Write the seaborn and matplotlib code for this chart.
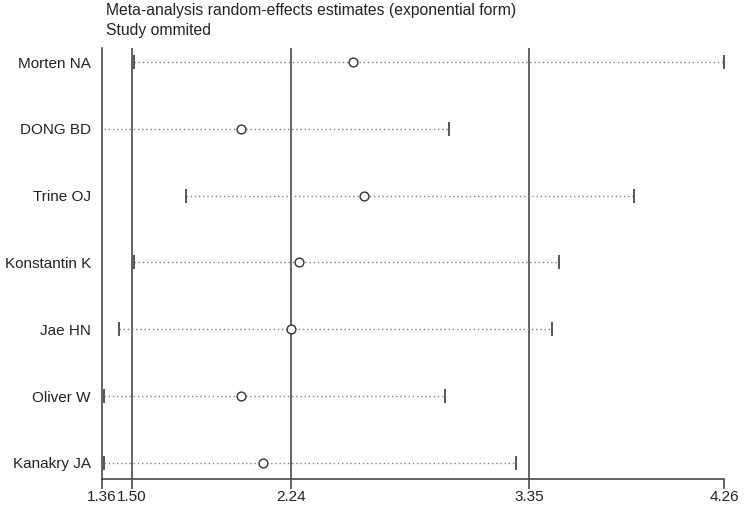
import numpy as np
import pandas as pd
import seaborn as sns
import matplotlib.pyplot as plt

# Study omitted and the pooled estimate with its CI (exponential form)
studies = ['Morten NA', 'DONG BD', 'Trine OJ', 'Konstantin K', 'Jae HN', 'Oliver W', 'Kanakry JA']
estimate = [2.53, 2.01, 2.58, 2.28, 2.24, 2.01, 2.11]
lower = [1.51, 1.35, 1.75, 1.51, 1.44, 1.37, 1.37]
upper = [4.26, 2.98, 3.84, 3.49, 3.46, 2.96, 3.29]

# reference lines (lower CI, estimate, upper CI of the full analysis)
ref_lines = [1.50, 2.24, 3.35]
x_ticks = [1.36, 1.50, 2.24, 3.35, 4.26]

df = pd.DataFrame({'study': studies, 'est': estimate, 'lo': lower, 'hi': upper})
df['pos'] = np.arange(len(df))

sns.set_theme(style='white')
plt.rcParams['font.family'] = ['Liberation Sans', 'DejaVu Sans']
fs = 11

fig = plt.figure(figsize=(7.44, 5.05), dpi=100)
ax = fig.add_axes([102 / 744, 26 / 505, 622 / 744, 431 / 505])

line_col = '#4a4a4a'
for x in ref_lines:
    ax.axvline(x, color=line_col, lw=1.2, zorder=1)

ax.hlines(df['pos'], df['lo'], df['hi'], colors='#808080', linestyles=(0, (1, 2)), lw=1.0, zorder=2)

ends = pd.concat([df[['lo', 'pos']].rename(columns={'lo': 'x'}),
                  df[['hi', 'pos']].rename(columns={'hi': 'x'})])
sns.scatterplot(data=ends, x='x', y='pos', marker='|', s=110, color='#555555',
                linewidth=1.4, ax=ax, zorder=3)
sns.scatterplot(data=df, x='est', y='pos', marker='o', s=40, facecolor='white',
                edgecolor='#333333', linewidth=1.0, ax=ax, zorder=4)

ax.set_xlim(1.36, 4.26)
ax.set_ylim(6.24, -0.21)
ax.set_xticks(x_ticks)
ax.set_xticklabels([f'{v:.2f}' for v in x_ticks], fontsize=fs, color='#222222')
ax.set_yticks(df['pos'])
ax.set_yticklabels(df['study'], fontsize=fs, color='#222222')
ax.tick_params(axis='x', length=7, width=1.2, color=line_col, pad=1, bottom=True)
ax.tick_params(axis='y', length=0, pad=8)
ax.set_xlabel('')
ax.set_ylabel('')

for side in ['top', 'right']:
    ax.spines[side].set_visible(False)
for side in ['left', 'bottom']:
    ax.spines[side].set_color(line_col)
    ax.spines[side].set_linewidth(1.2)

fig.text(106 / 744, 1 - 11 / 505, 'Meta-analysis random-effects estimates (exponential form)',
         fontsize=11.3, color='#222222', va='center', ha='left')
fig.text(106 / 744, 1 - 30 / 505, 'Study ommited', fontsize=11.3, color='#222222',
         va='center', ha='left')

fig.savefig('out.png', dpi=100)
